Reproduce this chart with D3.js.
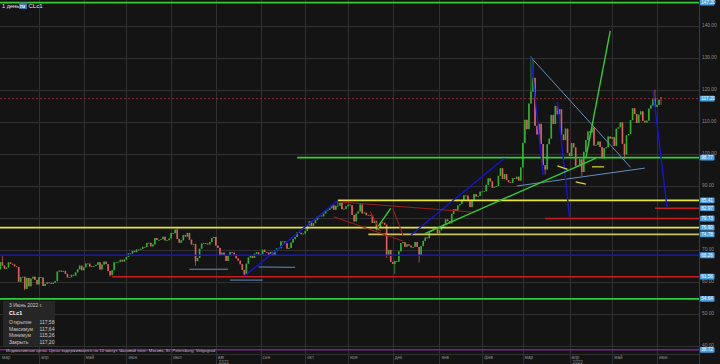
<!DOCTYPE html>
<html>
<head>
<meta charset="utf-8">
<script src="https://cdn.jsdelivr.net/npm/d3@7"></script>
<style>
  body { margin: 0; background: #141414; }
  text { font-family: "Liberation Sans", Arial, sans-serif; }
</style>
</head>
<body>
<svg id="chart" width="720" height="364"></svg>
<script>
// daily closes of CLc1, one array per month (weekdays only)
const mar21 = [60.64, 59.75, 61.28, 63.83, 66.09, 65.05, 64.01, 64.44, 66.02, 65.61, 65.39, 64.80, 64.60, 60.00, 61.42, 61.55, 57.76, 61.18, 58.56, 60.97, 61.56, 60.55, 59.16];
const apr21 = [61.45, 61.30, 58.65, 59.33, 59.77, 59.60, 59.32, 59.70, 60.18, 63.15, 63.46, 63.13, 63.38, 62.44, 61.35, 61.43, 62.14, 61.91, 62.94, 63.86, 65.01, 63.58];
const may21 = [64.49, 65.69, 65.63, 64.71, 64.90, 64.92, 65.28, 66.08, 63.82, 65.37, 66.27, 65.49, 63.36, 62.05, 63.58, 66.05, 66.07, 66.21, 66.85, 66.32, 66.90];
const jun21 = [67.72, 68.83, 68.81, 69.62, 69.23, 70.05, 69.96, 70.29, 70.91, 70.88, 72.12, 72.15, 71.04, 71.64, 73.66, 73.06, 73.08, 73.30, 74.05, 72.91, 72.98, 73.47];
const jul21 = [75.23, 75.16, 76.30, 73.37, 72.20, 72.94, 74.56, 74.10, 75.25, 73.13, 71.65, 71.81, 66.42, 67.42, 70.30, 71.91, 72.07, 71.91, 71.65, 72.39, 73.62, 73.95];
const aug21 = [71.26, 70.56, 68.15, 69.09, 68.28, 66.48, 68.29, 69.25, 69.09, 68.44, 67.29, 66.59, 65.46, 63.69, 62.32, 65.64, 67.54, 68.36, 67.42, 68.74, 69.21, 68.50];
const sep21 = [68.59, 69.99, 69.29, 69.10, 68.35, 69.30, 68.14, 69.72, 70.45, 70.46, 72.61, 72.61, 71.97, 70.29, 70.56, 72.23, 73.30, 73.98, 75.45, 75.29, 74.83, 75.03];
const oct21 = [75.88, 77.62, 78.93, 77.43, 78.30, 79.35, 80.52, 80.64, 80.44, 81.31, 82.28, 82.44, 82.96, 83.87, 82.50, 83.76, 83.76, 84.65, 82.66, 82.81, 83.57];
const nov21 = [84.05, 83.91, 80.86, 78.81, 81.27, 81.93, 84.15, 81.34, 81.59, 80.79, 80.88, 80.76, 78.36, 79.01, 76.10, 76.75, 78.50, 78.39, 77.80, 68.15, 69.95, 66.18];
const dec21 = [65.57, 66.50, 66.26, 69.49, 72.05, 72.36, 70.94, 71.67, 71.29, 70.73, 70.87, 72.38, 70.86, 68.23, 71.12, 72.76, 73.79, 73.60, 75.57, 75.98, 76.56, 76.99, 75.21];
const jan22 = [76.08, 76.99, 77.85, 79.46, 78.90, 78.23, 81.22, 82.64, 82.12, 83.82, 84.30, 85.43, 86.96, 86.90, 85.14, 83.31, 85.60, 87.35, 86.61, 86.82, 88.15];
const feb22 = [88.20, 88.26, 90.27, 92.31, 91.32, 89.36, 89.66, 89.88, 93.10, 95.46, 92.07, 93.66, 91.76, 91.07, 90.90, 92.35, 92.10, 92.81, 91.59, 95.72];
const mar22 = [103.41, 110.60, 107.67, 115.68, 119.40, 123.70, 108.70, 106.02, 109.33, 103.01, 96.44, 95.04, 102.98, 104.70, 112.12, 109.27, 114.93, 112.34, 113.90, 105.96, 104.24, 107.82, 100.28];
const apr22 = [99.27, 103.28, 101.96, 96.23, 96.03, 98.26, 94.29, 100.60, 104.25, 106.95, 106.60, 108.21, 102.56, 102.75, 103.79, 102.07, 98.54, 101.70, 102.02, 105.36, 104.69];
const may22 = [105.17, 102.41, 107.81, 108.26, 109.77, 103.09, 99.76, 105.71, 106.13, 110.49, 114.20, 112.40, 109.59, 112.21, 113.23, 110.29, 109.77, 110.33, 114.09, 115.07, 117.30, 114.67];
const jun22 = [115.26, 116.87, 117.20];

const months = [
  ["2021-03-01", "мар", mar21], ["2021-04-01", "апр", apr21], ["2021-05-01", "май", may21],
  ["2021-06-01", "июн", jun21], ["2021-07-01", "июл", jul21], ["2021-08-01", "авг", aug21],
  ["2021-09-01", "сен", sep21], ["2021-10-01", "окт", oct21], ["2021-11-01", "ноя", nov21],
  ["2021-12-01", "дек", dec21], ["2022-01-01", "янв", jan22], ["2022-02-01", "фев", feb22],
  ["2022-03-01", "мар", mar22], ["2022-04-01", "апр", apr22], ["2022-05-01", "май", may22],
  ["2022-06-01", "июн", jun22]
];
const yearLabels = [["2021-08-01", "2021"], ["2022-04-01", "2022"]];

const firstOpen = 61.50;
const lastBar = { date: "3 Июнь 2022 г.", open: 117.58, high: 117.64, low: 115.26, close: 117.20 };

const wickHighs = [["2021-03-08", 67.98], ["2021-07-06", 76.98], ["2021-10-25", 85.41],
  ["2022-03-07", 130.50], ["2022-03-08", 129.44], ["2022-05-31", 119.98]];
const wickLows = [["2021-03-23", 57.32], ["2021-05-20", 61.56], ["2021-07-19", 65.01],
  ["2021-08-20", 61.74], ["2021-11-26", 67.40], ["2021-12-02", 62.43], ["2021-12-20", 66.04],
  ["2022-03-16", 93.53], ["2022-04-11", 92.93], ["2022-05-10", 98.20]];

// horizontal levels: price, start date (null = from left edge), colour
const levels = [
  [147.20, null, "#33cc33"], [98.77, "2021-09-27", "#33cc33"], [85.41, "2021-10-25", "#e6e633"],
  [82.97, "2022-05-31", "#c81e1e"], [79.73, "2022-03-16", "#c81e1e"], [76.90, null, "#e6e633"],
  [74.78, "2021-11-15", "#c9c55a"], [68.26, null, "#1414d8"], [61.56, "2021-05-21", "#c81e1e"],
  [54.64, null, "#33cc33"], [38.72, null, "#7a1f8c"]
];
const currentPrice = 117.20;

// drawn trend lines: [date1, price1, date2, price2, colour, width]
const trendLines = [
  ["2021-07-14", 63.9, "2021-08-10", 63.9, "#5f8fc4", 1],
  ["2021-08-11", 60.5, "2021-09-02", 60.5, "#5f8fc4", 1],
  ["2021-08-31", 64.6, "2021-09-24", 64.5, "#5f8fc4", 1],
  ["2022-03-07", 130.1, "2022-05-13", 95.75, "#5f8fc4", 1],
  ["2022-02-24", 89.9, "2022-05-24", 95.5, "#5f8fc4", 1],
  ["2021-08-20", 61.74, "2021-10-25", 85.41, "#1414d8", 1.4],
  ["2021-12-14", 74.6, "2022-02-16", 98.6, "#1414d8", 1.4],
  ["2022-03-07", 130.3, "2022-03-15", 93.4, "#1414d8", 1.4],
  ["2022-03-24", 116.2, "2022-04-01", 79.8, "#1414d8", 1.4],
  ["2022-05-30", 119.7, "2022-06-08", 82.97, "#1414d8", 1.4],
  ["2021-11-19", 76.5, "2021-11-30", 82.9, "#33cc33", 1.4],
  ["2021-12-23", 75.1, "2022-04-20", 98.6, "#33cc33", 1.4],
  ["2022-04-13", 98.6, "2022-04-29", 138.4, "#33cc33", 1.4],
  ["2021-10-26", 84.9, "2022-01-25", 81.8, "#a01c1c", 1.1],
  ["2021-10-21", 80.3, "2021-12-08", 72.7, "#a01c1c", 1.1],
  ["2021-12-01", 82.9, "2021-12-08", 74.6, "#a01c1c", 1.1],
  ["2021-11-16", 81.9, "2021-11-23", 75.7, "#a01c1c", 1.1],
  ["2022-03-24", 96.2, "2022-03-31", 95.1, "#d8d830", 1.2],
  ["2022-04-06", 91.2, "2022-04-13", 90.5, "#d8d830", 1.2],
  ["2022-04-18", 95.9, "2022-04-26", 95.9, "#d8d830", 1.2]
];

const yTicks = [40, 50, 60, 70, 80, 90, 100, 110, 120, 130, 140];

// ---------------------------------------------------------------
const W = 720, H = 364, plotR = 699, plotB = 354;
const parse = d3.timeParse("%Y-%m-%d");
const t0 = parse("2021-03-01");
const isWeekday = d => d.getDay() % 6 !== 0;
const idx = s => d3.timeDay.range(t0, parse(s)).filter(isWeekday).length;

const bars = [];
months.forEach(([start, , closes]) => {
  const s = parse(start);
  const days = d3.timeDay.range(s, d3.timeMonth.offset(s, 1)).filter(isWeekday);
  closes.forEach((c, k) => bars.push({ date: days[k], close: c }));
});
bars.forEach((b, i) => {
  b.i = i;
  b.open = i === 0 ? firstOpen : bars[i - 1].close;
  b.high = Math.max(b.open, b.close);
  b.low = Math.min(b.open, b.close);
});
const fmt = d3.timeFormat("%Y-%m-%d");
const byDate = new Map(bars.map(b => [fmt(b.date), b]));
wickHighs.forEach(([d, v]) => { byDate.get(d).high = v; });
wickLows.forEach(([d, v]) => { byDate.get(d).low = v; });
const lb = bars[bars.length - 1];
lb.open = lastBar.open; lb.high = lastBar.high; lb.low = lastBar.low;

const x = d3.scaleLinear().domain([23, 327]).range([39, 657]);
const y = d3.scaleLinear().domain([40, 140]).range([345.7, 25.7]);

const svg = d3.select("#chart");
svg.append("rect").attr("width", W).attr("height", H).attr("fill", "#141414");
svg.append("clipPath").attr("id", "clip").append("rect")
  .attr("width", plotR).attr("height", plotB);

// grid
const grid = svg.append("g").attr("stroke", "#303030").attr("stroke-width", 1);
grid.selectAll(".h").data(yTicks).join("line")
  .attr("x1", 0).attr("x2", plotR)
  .attr("y1", d => Math.round(y(d)) + 0.5).attr("y2", d => Math.round(y(d)) + 0.5);
const monthX = months.map(([s, name]) => ({ name, x: x(idx(s)) }));
grid.selectAll(".v").data(monthX).join("line")
  .attr("x1", d => Math.round(d.x) + 0.5).attr("x2", d => Math.round(d.x) + 0.5)
  .attr("y1", 0).attr("y2", H);
grid.append("line").attr("x1", 0).attr("x2", plotR).attr("y1", plotB + 0.5).attr("y2", plotB + 0.5);
svg.append("line").attr("x1", plotR + 0.5).attr("x2", plotR + 0.5).attr("y1", 0).attr("y2", H)
  .attr("stroke", "#3a3a3a");

const plot = svg.append("g").attr("clip-path", "url(#clip)");

// candles
const up = "#2bb52b", down = "#e25e5e";
const candles = plot.append("g");
candles.selectAll("line").data(bars).join("line")
  .attr("x1", d => x(d.i)).attr("x2", d => x(d.i))
  .attr("y1", d => y(d.high)).attr("y2", d => y(d.low))
  .attr("stroke", d => d.close >= d.open ? up : down).attr("stroke-width", 0.7);
candles.selectAll("rect").data(bars).join("rect")
  .attr("x", d => x(d.i) - 0.8).attr("width", 1.6)
  .attr("y", d => y(Math.max(d.open, d.close)))
  .attr("height", d => Math.max(0.8, Math.abs(y(d.open) - y(d.close))))
  .attr("fill", d => d.close >= d.open ? up : down);

// current price line
plot.append("line").attr("x1", 0).attr("x2", plotR)
  .attr("y1", y(currentPrice)).attr("y2", y(currentPrice))
  .attr("stroke", "#9e3030").attr("stroke-dasharray", "2,2").attr("stroke-width", 0.9);

// levels
plot.selectAll(".lvl").data(levels).join("line")
  .attr("x1", d => d[1] ? x(idx(d[1])) : 0).attr("x2", plotR)
  .attr("y1", d => y(d[0])).attr("y2", d => y(d[0]))
  .attr("stroke", d => d[2]).attr("stroke-width", 1.6);

// trend lines
plot.selectAll(".tl").data(trendLines).join("line")
  .attr("x1", d => x(idx(d[0]))).attr("y1", d => y(d[1]))
  .attr("x2", d => x(idx(d[2]))).attr("y2", d => y(d[3]))
  .attr("stroke", d => d[4]).attr("stroke-width", d => d[5]);

// right axis tick labels
svg.selectAll(".yt").data(yTicks).join("text")
  .attr("x", 702).attr("y", d => y(d)).attr("dy", "0.35em")
  .attr("font-size", 4.8).attr("fill", "#8a8a8a")
  .text(d => d.toFixed(2));

// price badges
const badges = [[147.20], [currentPrice], ...levels.slice(1).map(l => [l[0]])];
const bg = svg.selectAll(".badge").data(badges).join("g")
  .attr("transform", d => `translate(700,${y(d[0])})`);
bg.append("rect").attr("y", -2.9).attr("height", 5.8).attr("width", 14.5).attr("rx", 0.8)
  .attr("fill", "#4a9fe2");
bg.append("text").attr("x", 1.3).attr("dy", "0.35em").attr("font-size", 4.6)
  .attr("fill", "#ffffff").text(d => d[0].toFixed(2));

// month labels
svg.selectAll(".mx").data(monthX).join("text")
  .attr("x", d => Math.max(2, d.x + 2)).attr("y", 358.5)
  .attr("font-size", 4.6).attr("fill", "#8a8a8a").text(d => d.name);
svg.selectAll(".yr").data(yearLabels).join("text")
  .attr("x", d => x(idx(d[0])) + 3).attr("y", 363.5)
  .attr("font-size", 4.6).attr("fill", "#8a8a8a").text(d => d[1]);

// top-left title
svg.append("text").attr("x", 2).attr("y", 8).attr("font-size", 5.6).attr("fill", "#e8e8e8").text("1 день");
svg.append("rect").attr("x", 19).attr("y", 2.5).attr("width", 8).attr("height", 6.5)
  .attr("fill", "#4f6fa6");
svg.append("text").attr("x", 20.1).attr("y", 7.6).attr("font-size", 5).attr("font-weight", "bold")
  .attr("fill", "#ffffff").text("ru");
svg.append("text").attr("x", 28.5).attr("y", 8).attr("font-size", 6).attr("fill", "#e8e8e8").text("CLc1");

// info panel
const info = svg.append("g");
info.append("rect").attr("x", 3).attr("y", 301).attr("width", 52).attr("height", 45).attr("fill", "#262626");
info.append("text").attr("x", 9).attr("y", 307).attr("font-size", 5).attr("fill", "#c8c8c8").text(lastBar.date);
info.append("text").attr("x", 9).attr("y", 315).attr("font-size", 5.4).attr("font-weight", "bold")
  .attr("fill", "#ffffff").text("CLc1");
const rows = [["Открытие", lastBar.open], ["Максимум", lastBar.high], ["Минимум", lastBar.low], ["Закрыть", lastBar.close]];
const f2 = v => v.toFixed(2).replace(".", ",");
info.selectAll(".rl").data(rows).join("text")
  .attr("x", 9).attr("y", (d, i) => 324 + i * 6.5).attr("font-size", 5).attr("fill", "#c8c8c8")
  .text(d => d[0]);
info.selectAll(".rv").data(rows).join("text")
  .attr("x", 39.5).attr("y", (d, i) => 324 + i * 6.5).attr("font-size", 5).attr("fill", "#c8c8c8")
  .text(d => f2(d[1]));

// footnote
svg.append("text").attr("x", 6).attr("y", 352.3).attr("font-size", 4.3).attr("fill", "#b8b8b8")
  .text("Индикативные цены. Цены задерживаются на 10 минут.  Часовой пояс: Москва, St. Petersburg, Volgograd");
</script>
</body>
</html>
